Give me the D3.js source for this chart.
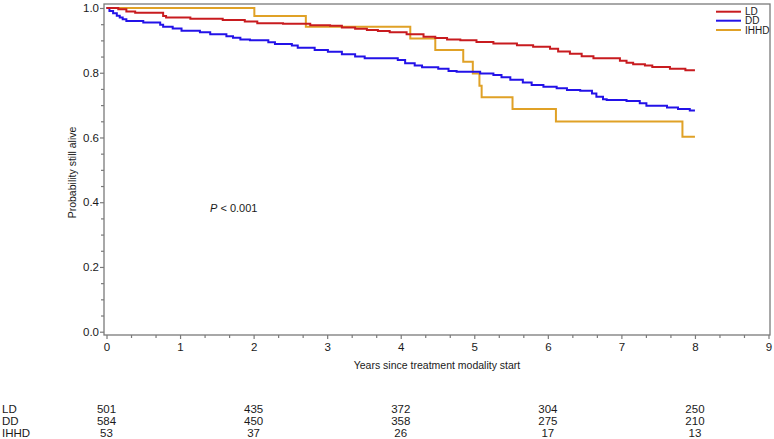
<!DOCTYPE html>
<html><head><meta charset="utf-8">
<script src="https://cdn.jsdelivr.net/npm/d3@7"></script>
<style>
html,body{margin:0;padding:0;background:#fff;}
svg{display:block;font-family:"Liberation Sans",Arial,sans-serif;}
</style></head>
<body><svg id="c" width="774" height="439"></svg>
<script>
// ---- data ----
const seriesNames = ["LD", "DD", "IHHD"];
const seriesColors = ["#c81b1f", "#2312e8", "#e0a126"];

const ldTimes = [0,0.16,0.27,0.39,0.77,0.81,1.14,1.58,1.88,2.05,2.40,2.77,3.04,3.20,3.38,3.54,3.69,3.85,4.08,4.31,4.47,4.63,4.81,5.03,5.26,5.58,5.80,6.03,6.14,6.30,6.46,6.62,6.98,7.07,7.16,7.32,7.42,7.66,7.87,8.00];
const ldSurv  = [1,0.996,0.989,0.985,0.975,0.971,0.967,0.963,0.958,0.953,0.951,0.947,0.945,0.940,0.936,0.932,0.929,0.925,0.919,0.911,0.907,0.903,0.900,0.895,0.890,0.885,0.880,0.874,0.866,0.859,0.851,0.845,0.837,0.831,0.826,0.822,0.818,0.812,0.808,0.808];

const ddTimes = [0,0.04,0.09,0.14,0.18,0.22,0.27,0.50,0.73,0.77,0.90,1.02,1.27,1.41,1.63,1.72,1.82,1.95,2.20,2.29,2.52,2.60,2.83,3.01,3.20,3.38,3.51,3.96,4.06,4.19,4.29,4.51,4.65,4.76,5.08,5.26,5.37,5.49,5.66,5.78,5.94,6.12,6.26,6.44,6.60,6.66,6.75,6.80,7.07,7.25,7.34,7.62,7.77,7.93,8.00];
const ddSurv  = [1,0.991,0.984,0.976,0.971,0.965,0.960,0.955,0.948,0.942,0.937,0.930,0.925,0.919,0.913,0.908,0.903,0.900,0.894,0.889,0.884,0.877,0.870,0.865,0.857,0.850,0.845,0.839,0.829,0.822,0.817,0.812,0.805,0.803,0.798,0.793,0.786,0.778,0.770,0.762,0.757,0.752,0.747,0.744,0.736,0.726,0.718,0.716,0.713,0.706,0.698,0.693,0.688,0.683,0.683];

const ihTimes = [0,2.01,2.71,4.13,4.47,4.85,4.98,5.07,5.10,5.52,6.11,7.83,8.00];
const ihSurv  = [1,0.975,0.942,0.906,0.870,0.834,0.798,0.760,0.724,0.688,0.649,0.602,0.602];

const xTicks = [0,1,2,3,4,5,6,7,8,9];
const yTicks = [0,0.2,0.4,0.6,0.8,1.0];
const riskTimes = [0,2,4,6,8];
const riskLD = [501,435,372,304,250];
const riskDD = [584,450,358,275,210];
const riskIH = [53,37,26,17,13];

const xTitle = "Years since treatment modality start";
const yTitle = "Probability still alive";

// ---- drawing ----
const svg = d3.select("#c");
const x = d3.scaleLinear().domain([0,9]).range([106.5,768.5]);
const y = d3.scaleLinear().domain([0,1]).range([331.7,8]);
const frame = {l:104, r:770, t:4, b:335};
const axisCol = "#7a7a7a";
const textCol = "#1a1a1a";

// frame
svg.append("rect").attr("x",frame.l).attr("y",frame.t)
  .attr("width",frame.r-frame.l).attr("height",frame.b-frame.t)
  .attr("fill","none").attr("stroke",axisCol).attr("stroke-width",1.3);

// x axis
const xAx = svg.append("g").attr("transform",`translate(0,${frame.b})`)
  .call(d3.axisBottom(x).tickValues(xTicks).tickFormat(d3.format("d")).tickSize(4).tickPadding(4));
const xMinor = svg.append("g").attr("transform",`translate(0,${frame.b})`)
  .call(d3.axisBottom(x).tickValues(d3.range(0,27).filter(i=>i%3).map(i=>i/3)).tickSize(3).tickFormat(""));
// y axis
const yAx = svg.append("g").attr("transform",`translate(${frame.l},0)`)
  .call(d3.axisLeft(y).tickValues(yTicks).tickFormat(d3.format(".1f")).tickSize(4).tickPadding(1));
const yMinor = svg.append("g").attr("transform",`translate(${frame.l},0)`)
  .call(d3.axisLeft(y).tickValues(d3.range(0,21).filter(i=>i%4).map(i=>i/20)).tickSize(3).tickFormat(""));
[xAx,xMinor,yAx,yMinor].forEach(g=>{
  g.select(".domain").remove();
  g.selectAll("line").attr("stroke",axisCol).attr("stroke-width",1.2);
  g.selectAll("text").attr("fill",textCol).style("font-size","11.5px").style("font-family","'Liberation Sans',Arial,sans-serif");
});

// titles
svg.append("text").attr("x",(frame.l+frame.r)/2).attr("y",369).attr("text-anchor","middle")
  .attr("fill",textCol).style("font-size","10.5px").text(xTitle);
svg.append("text").attr("transform","translate(76,172.5) rotate(-90)").attr("text-anchor","middle")
  .attr("fill",textCol).style("font-size","10.5px").text(yTitle);

// curves
const allSeries = [
  {t:ldTimes,s:ldSurv},{t:ddTimes,s:ddSurv},{t:ihTimes,s:ihSurv}
];
const line = d3.line().x(d=>x(d[0])).y(d=>y(d[1])).curve(d3.curveStepAfter);
[2,1,0].forEach(i=>{
  const pts = allSeries[i].t.map((t,j)=>[t,allSeries[i].s[j]]);
  svg.append("path").datum(pts).attr("d",line).attr("fill","none")
    .attr("stroke",seriesColors[i]).attr("stroke-width",2);
});

// legend (tightly stacked, as in the reference)
seriesNames.forEach((n,i)=>{
  const ly = [11.7,20.7,30][i];
  svg.append("line").attr("x1",716).attr("x2",741).attr("y1",ly).attr("y2",ly)
    .attr("stroke",seriesColors[i]).attr("stroke-width",2);
  svg.append("text").attr("x",745).attr("y",[15,24.2,33.6][i]).attr("fill",textCol)
    .style("font-size","10px").text(n);
});

// P value
const pt = svg.append("text").attr("x",210).attr("y",211.7).attr("fill",textCol).style("font-size","11px");
pt.append("tspan").style("font-style","italic").text("P");
pt.append("tspan").text(" < 0.001");

// number at risk
const riskRows = [riskLD,riskDD,riskIH];
const rowY = [413,424.7,436.5];
riskRows.forEach((row,i)=>{
  svg.append("text").attr("x",2).attr("y",rowY[i]).attr("fill",textCol)
    .style("font-size","11.5px").text(seriesNames[i]);
  row.forEach((v,j)=>{
    svg.append("text").attr("x",x(riskTimes[j])).attr("y",rowY[i]).attr("text-anchor","middle")
      .attr("fill",textCol).style("font-size","11.5px").text(v);
  });
});
</script></body></html>
